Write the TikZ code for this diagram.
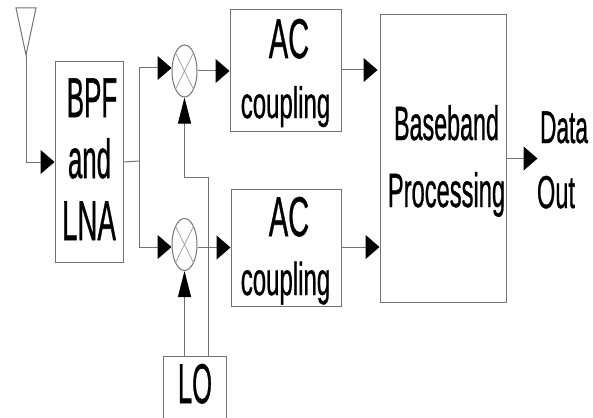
\documentclass[tikz,border=0pt]{standalone}
\usepackage{fontspec}
\setmainfont{Liberation Sans}[FakeBold=0.7,AutoFakeBold=false]
\newfontfamily\heavyfont{Liberation Sans}[FakeBold=1]
\usetikzlibrary{arrows.meta,calc,shapes.geometric}
\newcommand{\stretchtxt}[3]{\scalebox{\fpeval{#2/#1}}[1]{\fontsize{#1pt}{#1pt}\heavyfont\selectfont #3}}
\tikzset{
  x=1pt,y=-1pt,
  wire/.style={draw=black!55,line width=1pt},
  flow/.style={wire,-{Triangle[length=14pt,width=24pt,fill=black,color=black]}},
  flowup/.style={wire,-{Triangle[length=26pt,width=13pt,fill=black,color=black]}},
  boxnode/.style={draw=black!55,line width=1pt,fill=none,rectangle,inner sep=0pt},
  mixnode/.style={draw=black!55,line width=1pt,ellipse,inner sep=0pt,minimum width=25pt,minimum height=52pt},
  lab/.style={anchor=base,inner sep=0pt,text=black},
}
\begin{document}
\begin{tikzpicture}
\path[use as bounding box] (0,0) rectangle (593,417);
\clip (0,0) rectangle (593,417);
% blocks
\node[boxnode,minimum width=68pt,minimum height=200pt] (bpf) at (89,162) {};
\node[boxnode,minimum width=111pt,minimum height=121pt] (aca) at (285.5,70.5) {};
\node[boxnode,minimum width=110pt,minimum height=117pt] (acb) at (286,247.5) {};
\node[boxnode,minimum width=126pt,minimum height=287pt] (bb) at (443,158.5) {};
\node[boxnode,minimum width=63pt,minimum height=70pt] (lo) at (194.5,391) {};
% mixers
\node[mixnode] (mixa) at (184.5,71) {};
\node[mixnode] (mixb) at (184.5,244.5) {};
\foreach \m in {mixa,mixb}{
  \draw[draw=black!40,line width=.7pt] (\m.north west) -- (\m.south east);
  \draw[draw=black!40,line width=.7pt] (\m.north east) -- (\m.south west);
}
% antenna
\coordinate (anta) at (16,8);
\coordinate (antb) at (36,8);
\coordinate (anttip) at (26,55);
\draw[wire,line join=miter] (anta) -- (antb) -- (anttip) -- cycle;
% labels
\node[lab] (t1) at (92,117) {\stretchtxt{56}{26}{BPF}};
\node[lab] (t2) at (89.5,178) {\stretchtxt{55}{25.8}{and}};
\node[lab] (t3) at (89,240) {\stretchtxt{56}{27.7}{LNA}};
\node[lab] (t4) at (289,58) {\stretchtxt{56}{29}{AC}};
\node[lab] (t5) at (285.5,118) {\stretchtxt{44}{24}{coupling}};
\node[lab] (t6) at (289,236) {\stretchtxt{56}{29}{AC}};
\node[lab] (t7) at (285.5,295) {\stretchtxt{46}{24}{coupling}};
\node[lab] (t8) at (446.5,140) {\stretchtxt{48}{23.3}{Baseband}};
\node[lab] (t9) at (446.5,207) {\stretchtxt{48}{23.7}{Processing}};
\node[lab] (t10) at (564,143) {\stretchtxt{46}{22.7}{Data}};
\node[lab] (t11) at (556,208) {\stretchtxt{46}{23.6}{Out}};
\node[lab] (t12) at (195,403) {\stretchtxt{56}{25.5}{LO}};
% connectors
\draw[flow] (anttip) |- (bpf.west);
\coordinate (split) at (139,161);
\draw[wire] (bpf.east) -- (split);
\draw[flow] (split) |- ($(mixa.west)+(0,-3)$);
\draw[flow] (split) |- ($(mixb.west)+(0,2.5)$);
\draw[flow] (mixa.east) -- (aca.west |- mixa.east);
\draw[flow] ($(mixb.east)+(0,3)$) -- ($(acb.west |- mixb.east)+(0,3)$);
\draw[flow] (aca.east |- 0,70) -- ($(bb.west |- 0,70)+(-2,0)$);
\draw[flow] (acb.east |- 0,247) -- (bb.west |- 0,247);
\draw[flow] (bb.east) -- ++(31,0) coordinate (dataout);
\draw[flowup] (lo.north -| mixb.south) -- (mixb.south);
\coordinate (lotap) at (208,356);
\draw[flowup] (lotap) -- (208,177) -| (mixa.south);
\end{tikzpicture}
\end{document}
